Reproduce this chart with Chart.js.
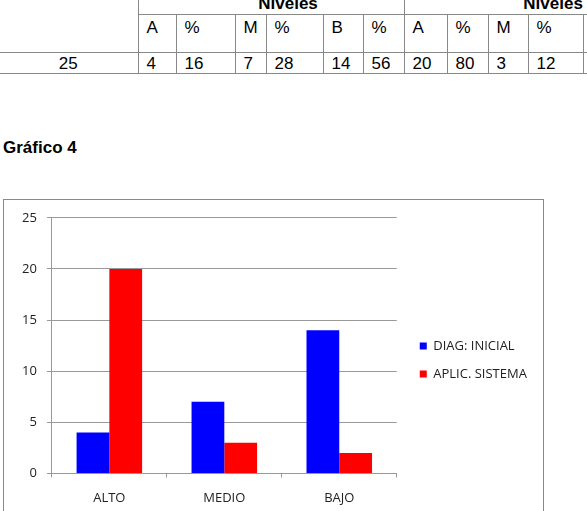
<!DOCTYPE html>
<html>
<head>
<meta charset="utf-8">
<script src="https://cdn.jsdelivr.net/npm/chart.js@4"></script>
<style>
  html, body { margin: 0; padding: 0; background: #fff; overflow: hidden; width: 587px; height: 511px; }
  body { position: relative; font-family: "Liberation Sans", Arial, sans-serif; color: #000; }
  #tbl { position: absolute; left: -1px; top: -16px; border-collapse: collapse; table-layout: fixed; width: 664px; font-size: 17px; }
  #tbl td { border: 1px solid #888; padding: 0 0 0 8px; vertical-align: top; white-space: nowrap; line-height: 19px; }
  #tbl tr.r1 { height: 30px; }
  #tbl tr.r2 { height: 38px; }
  #tbl tr.r3 { height: 21px; }
  #tbl tr.r1 td.grp { font-weight: bold; text-align: center; vertical-align: bottom; padding-bottom: 1px; }
  #tbl tr.r2 td { padding-top: 3px; }
  #tbl tr.r3 td { vertical-align: middle; }
  #tbl td.first { border-left: none; }
  #tbl tr.r3 td.first { text-align: center; padding-left: 0; }
  #titulo { position: absolute; left: 3px; top: 138px; font-weight: bold; font-size: 17px; line-height: 20px; }
  #box { position: absolute; left: 3px; top: 199px; width: 539px; height: 322px; border: 1px solid #888; }
  #box canvas { position: absolute; left: 0; top: 0; }
</style>
</head>
<body>
<table id="tbl">
  <colgroup>
    <col style="width:139px"><col style="width:38px"><col style="width:59px"><col style="width:31px">
    <col style="width:57px"><col style="width:40px"><col style="width:41px"><col style="width:43px">
    <col style="width:41px"><col style="width:40px"><col style="width:55px"><col style="width:40px"><col style="width:40px">
  </colgroup>
  <tr class="r1">
    <td class="first" rowspan="2"></td>
    <td class="grp" colspan="6" style="padding-left:34px">Niveles</td>
    <td class="grp" colspan="6" style="padding-left:39px">Niveles</td>
  </tr>
  <tr class="r2">
    <td>A</td><td>%</td><td>M</td><td>%</td><td>B</td><td>%</td>
    <td>A</td><td>%</td><td>M</td><td>%</td><td>B</td><td>%</td>
  </tr>
  <tr class="r3">
    <td class="first">25</td>
    <td>4</td><td>16</td><td>7</td><td>28</td><td>14</td><td>56</td>
    <td>20</td><td>80</td><td>3</td><td>12</td><td>2</td><td>8</td>
  </tr>
</table>

<div id="titulo">Gráfico 4</div>

<div id="box">
  <canvas id="grafico" width="539" height="322"></canvas>
</div>

<script>
const categorias = ['ALTO', 'MEDIO', 'BAJO'];
const diagInicial = [4, 7, 14];
const aplicSistema = [20, 3, 2];
const series = ['DIAG: INICIAL', 'APLIC. SISTEMA'];

const fuente = { family: "'Open Sans', sans-serif", size: 13 };
const gris = '#999999';

// empuja la leyenda un poco a la derecha, como en el original
const moverLeyenda = {
    id: 'moverLeyenda',
    afterLayout(chart) {
        const l = chart.legend;
        l.left += 8; l.right += 8;
        l.top -= 5; l.bottom -= 5;
    }
};

new Chart(document.getElementById('grafico'), {
    type: 'bar',
    data: {
        labels: categorias,
        datasets: [
            { label: series[0], data: diagInicial, backgroundColor: '#0000ff', borderWidth: 0 },
            { label: series[1], data: aplicSistema, backgroundColor: '#ff0000', borderWidth: 0 }
        ]
    },
    options: {
        responsive: false,
        animation: false,
        categoryPercentage: 0.57,
        barPercentage: 1,
        layout: { padding: { top: 11, left: 8, right: 18, bottom: 3 } },
        plugins: {
            legend: {
                position: 'right',
                labels: {
                    boxWidth: 7,
                    boxHeight: 7,
                    padding: 15,
                    color: '#222',
                    font: fuente
                }
            },
            tooltip: { enabled: false }
        },
        scales: {
            x: {
                grid: { drawOnChartArea: false, drawTicks: true, tickLength: 4, color: gris },
                border: { color: gris },
                ticks: { color: '#222', font: fuente, padding: 13 }
            },
            y: {
                min: 0,
                max: 25,
                grid: { color: gris, tickLength: 5 },
                border: { color: gris },
                ticks: { stepSize: 5, color: '#222', font: fuente, padding: 10 }
            }
        }
    },
    plugins: [moverLeyenda]
});
</script>
</body>
</html>
